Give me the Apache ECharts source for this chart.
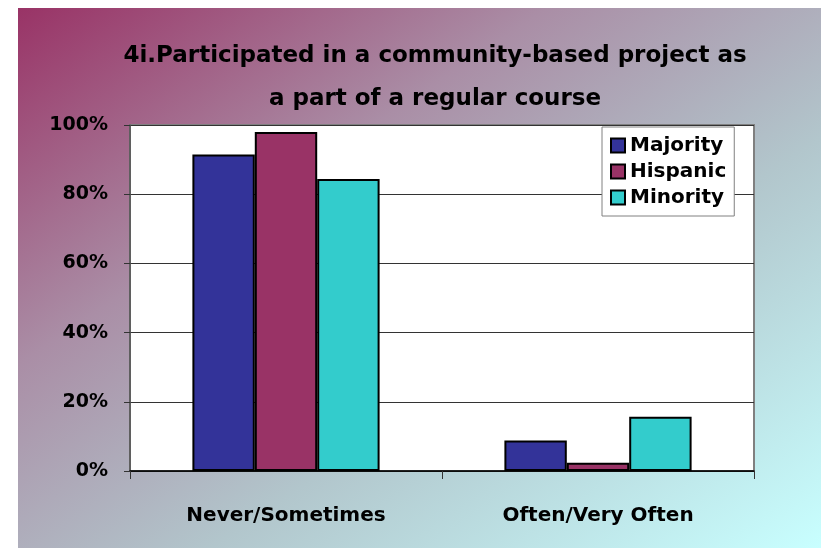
<!DOCTYPE html>
<html>
<head>
<meta charset="utf-8">
<script src="https://cdn.jsdelivr.net/npm/echarts@6/dist/echarts.min.js"></script>
<style>
  html, body { margin: 0; padding: 0; background: #fff; }
  #frame {
    position: absolute; left: 18px; top: 8px; width: 803px; height: 540px;
    background: linear-gradient(to bottom right, #993366 0%, #aa8ea6 33%, #b2c6cc 62%, #c8ffff 100%);
  }
  #chart { position: absolute; left: 0; top: 0; width: 821px; height: 548px; }
</style>
</head>
<body>
<div id="frame"></div>
<div id="chart"></div>
<script>
// chart data
var categories = ['Never/Sometimes', 'Often/Very Often'];
var majority = [91.5, 8.8];
var hispanic = [98, 2.4];
var minority = [84.4, 15.7];
var yTicks = [0, 20, 40, 60, 80, 100];

var chart = echarts.init(document.getElementById('chart'));
var fontName = '"DejaVu Sans", sans-serif';

function bars(name, data, color) {
    return {
        name: name
        , type: 'bar'
        , data: data
        , barGap: '0%'
        , barCategoryGap: '40%'
        , itemStyle: {
            color: color
            , borderColor: '#000'
            , borderWidth: 2
        }
    };
}

chart.setOption({
    backgroundColor: 'transparent'
    , animation: false
    , title: {
        text: '4i.Participated in a community-based project as\na part of a regular course'
        , left: 430
        , textAlign: 'center'
        , top: 30
        , textStyle: {
            fontFamily: fontName
            , fontWeight: 'bold'
            , fontSize: 23
            , lineHeight: 43
            , color: '#000'
        }
    }
    , legend: {
        orient: 'vertical'
        , left: 602
        , top: 127
        , itemWidth: 14
        , itemHeight: 14
        , itemGap: 5
        , padding: [8, 8, 8, 8]
        , backgroundColor: '#fff'
        , borderColor: '#808080'
        , borderWidth: 1
        , borderRadius: 0
        , icon: 'rect'
        , textStyle: {
            fontFamily: fontName
            , fontWeight: 'bold'
            , fontSize: 20
            , lineHeight: 21
            , color: '#000'
        }
    }
    , grid: {
        left: 130
        , right: 67
        , top: 125
        , bottom: 77
        , show: true
        , backgroundColor: '#fff'
        , borderColor: '#808080'
        , borderWidth: 2
    }
    , xAxis: {
        type: 'category'
        , data: categories
        , axisLine: { lineStyle: { color: '#000', width: 1.5 } }
        , axisTick: { show: true, length: 8, alignWithLabel: false, lineStyle: { color: '#333' } }
        , axisLabel: {
            margin: 35
            , fontFamily: fontName
            , fontWeight: 'bold'
            , fontSize: 20
            , color: '#000'
        }
    }
    , yAxis: {
        type: 'value'
        , min: yTicks[0]
        , max: yTicks[yTicks.length - 1]
        , interval: yTicks[1] - yTicks[0]
        , axisLine: { show: true, lineStyle: { color: '#555', width: 1.5 } }
        , axisTick: { show: true, length: 6, lineStyle: { color: '#333' } }
        , splitLine: { lineStyle: { color: '#333', width: 1 } }
        , axisLabel: {
            formatter: '{value}%'
            , margin: 22
            , fontFamily: fontName
            , fontWeight: 'bold'
            , fontSize: 19
            , color: '#000'
        }
    }
    , series: [
        bars('Majority', majority, '#333399')
        , bars('Hispanic', hispanic, '#993366')
        , bars('Minority', minority, '#33cccc')
    ]
});
</script>
</body>
</html>
